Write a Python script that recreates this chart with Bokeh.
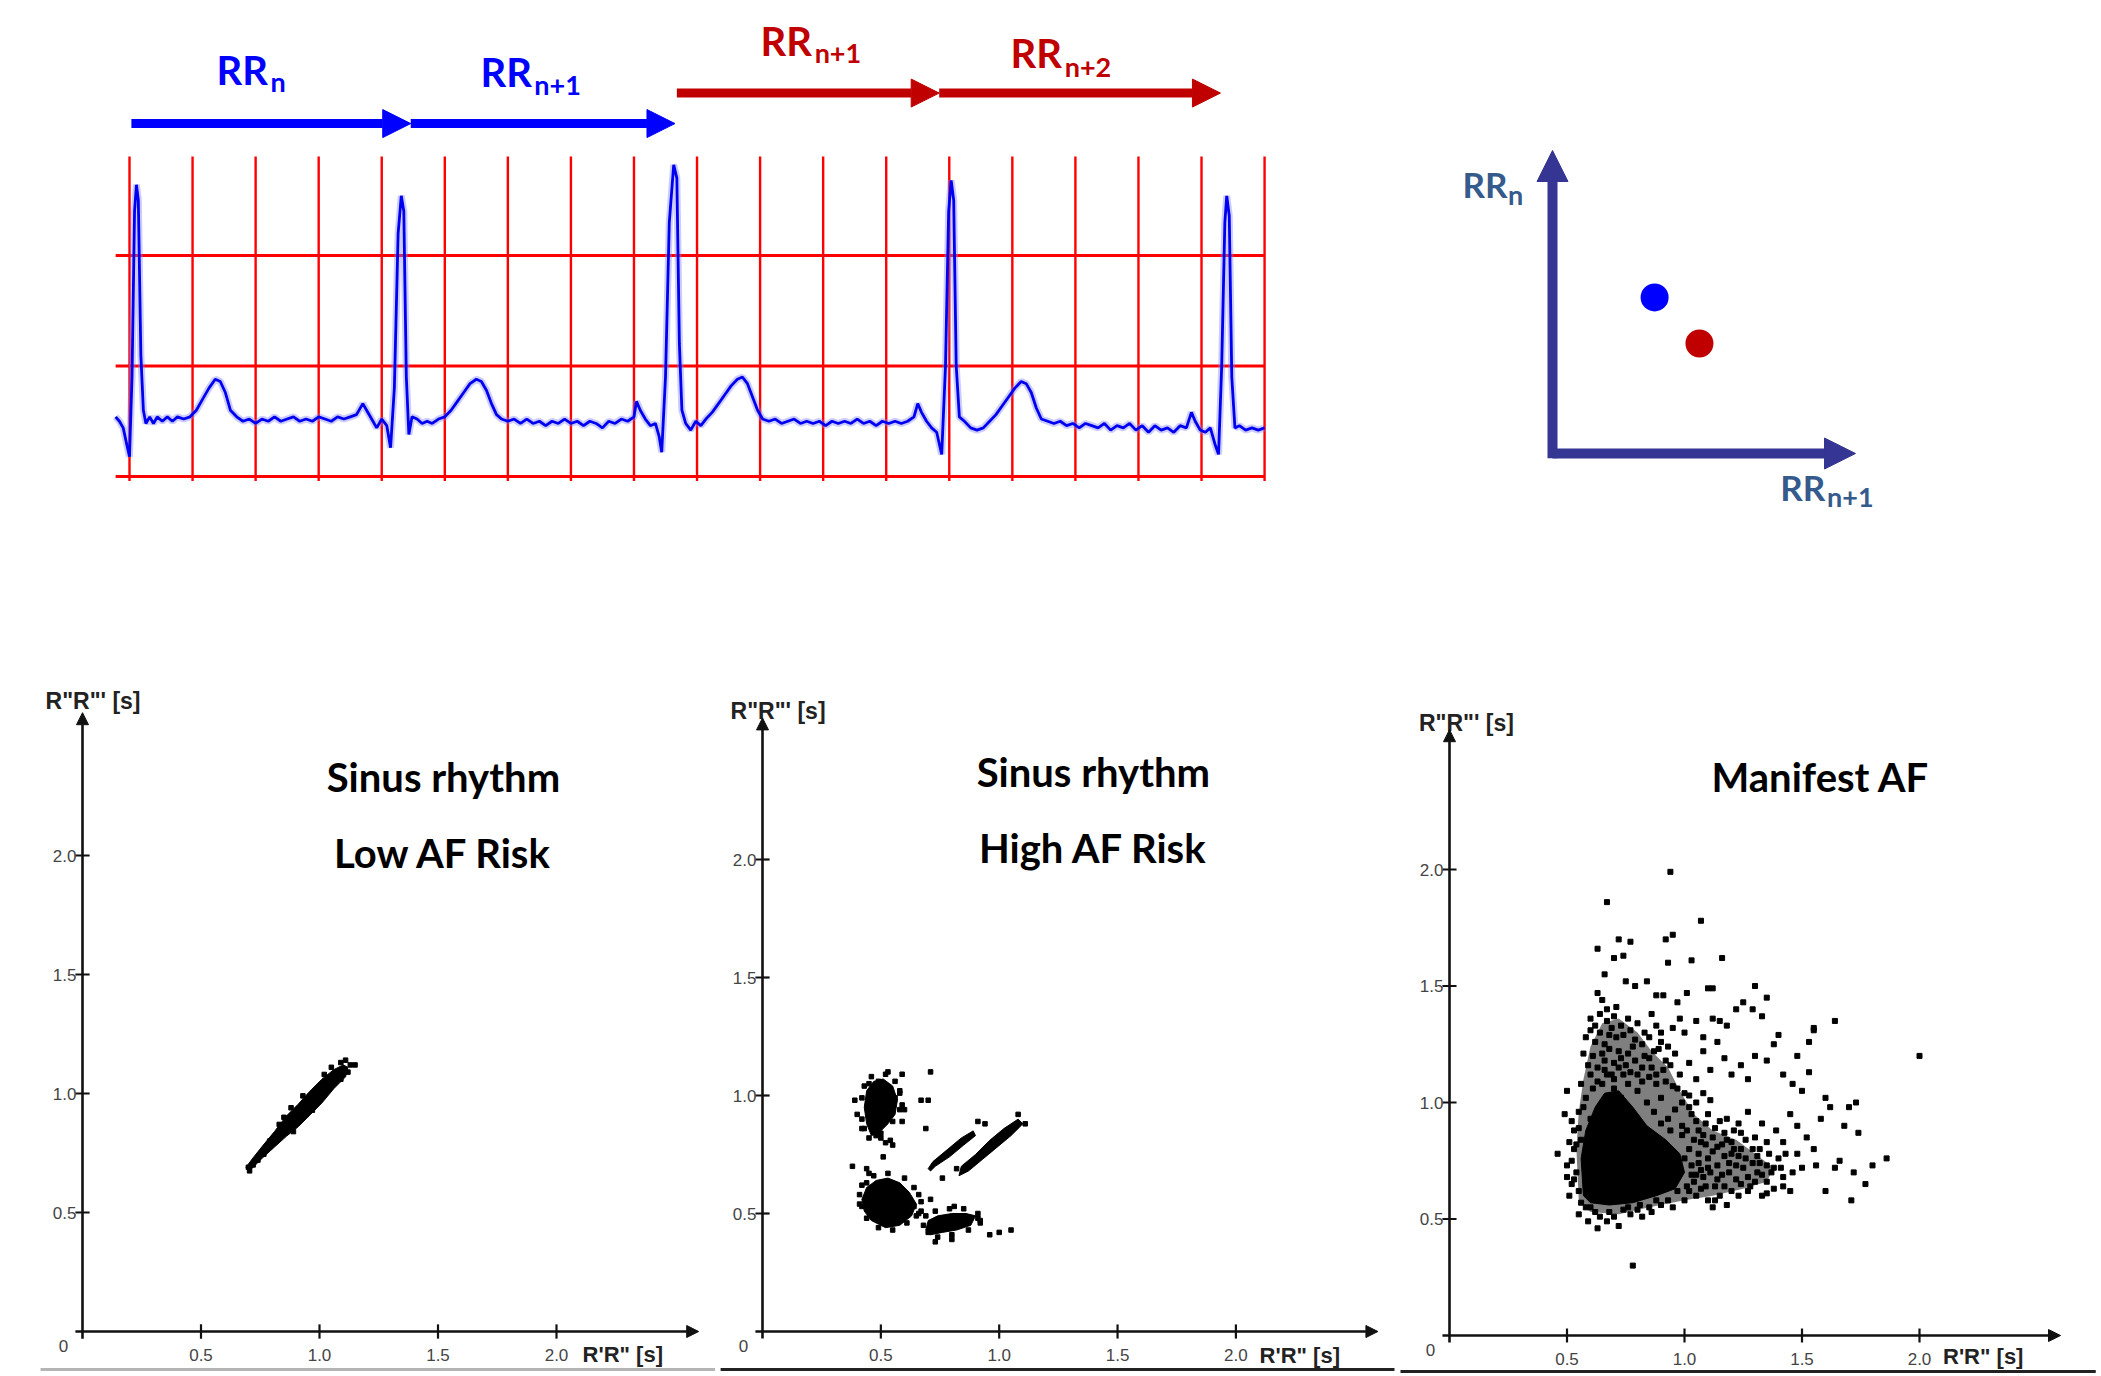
from bokeh.plotting import figure
from bokeh.layouts import column, row
from bokeh.models import Arrow, NormalHead
from bokeh.core.properties import value
from bokeh.embed import file_html
from bokeh.resources import INLINE

# ---------------------------------------------------------------- data
# ECG trace: time (s) and amplitude (mV), read off the strip
ECG_T = [-0.044, -0.032, -0.020, -0.008, 0.000, 0.008, 0.016, 0.022, 0.028, 0.036, 0.044, 0.052,
         0.064, 0.076, 0.088, 0.104, 0.120, 0.136, 0.152, 0.172, 0.192, 0.212, 0.232, 0.252, 0.272,
         0.288, 0.304, 0.320, 0.340, 0.360, 0.380, 0.400, 0.420, 0.440, 0.460, 0.480, 0.500, 0.520,
         0.540, 0.560, 0.580, 0.600, 0.620, 0.640, 0.660, 0.680, 0.700, 0.720, 0.740, 0.752, 0.768,
         0.784, 0.800, 0.816, 0.828, 0.840, 0.852, 0.862, 0.870, 0.878, 0.886, 0.896, 0.912, 0.928,
         0.944, 0.960, 0.980, 1.000, 1.020, 1.040, 1.060, 1.080, 1.100, 1.116, 1.132, 1.148, 1.164,
         1.180, 1.200, 1.220, 1.240, 1.260, 1.280, 1.300, 1.320, 1.340, 1.360, 1.380, 1.400, 1.420,
         1.440, 1.460, 1.480, 1.500, 1.520, 1.540, 1.560, 1.580, 1.600, 1.608, 1.620, 1.636, 1.652,
         1.668, 1.680, 1.688, 1.700, 1.712, 1.726, 1.736, 1.744, 1.752, 1.764, 1.780, 1.796, 1.812,
         1.828, 1.848, 1.868, 1.888, 1.908, 1.928, 1.944, 1.960, 1.976, 1.992, 2.008, 2.028, 2.048,
         2.068, 2.088, 2.108, 2.128, 2.148, 2.168, 2.188, 2.208, 2.228, 2.248, 2.268, 2.288, 2.308,
         2.328, 2.348, 2.368, 2.388, 2.408, 2.428, 2.448, 2.468, 2.488, 2.500, 2.512, 2.528, 2.544,
         2.560, 2.576, 2.588, 2.598, 2.606, 2.614, 2.622, 2.632, 2.648, 2.668, 2.688, 2.708, 2.728,
         2.748, 2.768, 2.788, 2.808, 2.828, 2.844, 2.860, 2.876, 2.892, 2.912, 2.932, 2.952, 2.972,
         2.992, 3.012, 3.032, 3.052, 3.072, 3.092, 3.112, 3.132, 3.152, 3.172, 3.192, 3.212, 3.232,
         3.252, 3.272, 3.292, 3.312, 3.332, 3.352, 3.368, 3.380, 3.396, 3.412, 3.428, 3.444, 3.454,
         3.464, 3.474, 3.480, 3.488, 3.496, 3.506, 3.520, 3.540, 3.560, 3.580, 3.600]
ECG_MV = [0.27, 0.25, 0.22, 0.14, 0.09, 0.45, 1.20, 1.32, 1.25, 0.55, 0.30, 0.24,
          0.27, 0.24, 0.27, 0.25, 0.27, 0.25, 0.27, 0.26, 0.27, 0.30, 0.35, 0.40, 0.44,
          0.43, 0.38, 0.30, 0.27, 0.25, 0.26, 0.24, 0.26, 0.25, 0.27, 0.25, 0.26, 0.27,
          0.25, 0.26, 0.25, 0.27, 0.26, 0.25, 0.27, 0.26, 0.27, 0.28, 0.33, 0.30, 0.26,
          0.22, 0.26, 0.23, 0.13, 0.40, 1.10, 1.27, 1.20, 0.45, 0.19, 0.27, 0.26, 0.24,
          0.25, 0.24, 0.26, 0.27, 0.30, 0.34, 0.38, 0.42, 0.44, 0.43, 0.39, 0.33, 0.28,
          0.26, 0.25, 0.26, 0.24, 0.26, 0.24, 0.25, 0.23, 0.25, 0.24, 0.26, 0.24, 0.25,
          0.23, 0.25, 0.24, 0.22, 0.25, 0.24, 0.26, 0.25, 0.27, 0.34, 0.30, 0.26, 0.23,
          0.24, 0.18, 0.11, 0.45, 1.15, 1.41, 1.35, 0.60, 0.30, 0.24, 0.21, 0.25, 0.23,
          0.26, 0.29, 0.33, 0.37, 0.41, 0.44, 0.45, 0.42, 0.36, 0.30, 0.26, 0.25, 0.26,
          0.24, 0.25, 0.26, 0.24, 0.25, 0.24, 0.25, 0.23, 0.25, 0.24, 0.25, 0.24, 0.26,
          0.24, 0.25, 0.23, 0.25, 0.24, 0.25, 0.24, 0.25, 0.27, 0.33, 0.29, 0.25, 0.22,
          0.20, 0.10, 0.50, 1.20, 1.34, 1.25, 0.50, 0.27, 0.25, 0.22, 0.21, 0.22, 0.25,
          0.28, 0.32, 0.36, 0.40, 0.43, 0.42, 0.38, 0.31, 0.26, 0.25, 0.24, 0.25, 0.23,
          0.24, 0.22, 0.24, 0.23, 0.22, 0.24, 0.21, 0.23, 0.22, 0.24, 0.21, 0.23, 0.20,
          0.23, 0.21, 0.22, 0.20, 0.23, 0.22, 0.29, 0.25, 0.21, 0.20, 0.22, 0.14, 0.10,
          0.50, 1.15, 1.27, 1.18, 0.45, 0.22, 0.23, 0.21, 0.22, 0.21, 0.22]

GRID_T = [0.0, 0.2, 0.4, 0.6, 0.8, 1.0, 1.2, 1.4, 1.6, 1.8, 2.0, 2.2, 2.4, 2.6, 2.8, 3.0, 3.2, 3.4, 3.6]
GRID_MV = [0.0, 0.5, 1.0]

# RR interval arrows: start, middle head, end (s)
RR_BLUE = [0.006, 0.892, 1.730]
RR_RED = [1.736, 2.568, 3.460]

# schematic Poincare point pair
POINCARE_X = [0.337, 0.485]
POINCARE_Y = [0.515, 0.363]
POINCARE_COLORS = ["#0000ff", "#c00000"]

TICKS = [0.5, 1.0, 1.5, 2.0]
TICK_LABELS = ["0.5", "1.0", "1.5", "2.0"]

# --- Sinus rhythm, low AF risk
LOW_BAND_X = [0.69, 0.72, 0.76, 0.81, 0.86, 0.91, 0.96, 1.01, 1.06, 1.10, 1.12,
              1.11, 1.06, 1.01, 0.96, 0.91, 0.86, 0.81, 0.76, 0.72, 0.70]
LOW_BAND_Y = [0.69, 0.73, 0.78, 0.84, 0.905, 0.955, 1.01, 1.06, 1.10, 1.12, 1.11,
              1.07, 1.02, 0.96, 0.91, 0.86, 0.82, 0.775, 0.73, 0.69, 0.67]
LOW_POINTS = [(0.70, 0.69), (0.705, 0.675), (0.72, 0.70), (0.74, 0.72), (0.765, 0.745),
              (0.79, 0.80), (0.83, 0.87), (0.85, 0.90), (0.88, 0.94), (0.93, 0.99),
              (1.02, 1.08), (1.05, 1.11), (1.09, 1.13), (1.11, 1.14), (1.13, 1.12),
              (1.15, 1.12), (1.12, 1.09), (1.09, 1.06), (0.97, 0.93), (0.89, 0.84)]

# --- Sinus rhythm, high AF risk (dense clusters + scattered beats)
HIGH_CLUSTERS_X = [
    [0.44, 0.43, 0.44, 0.47, 0.51, 0.55, 0.57, 0.56, 0.53, 0.49, 0.46],
    [0.42, 0.44, 0.48, 0.53, 0.58, 0.62, 0.65, 0.63, 0.58, 0.52, 0.46, 0.43],
    [0.69, 0.70, 0.74, 0.80, 0.86, 0.90, 0.88, 0.82, 0.76, 0.71],
    [0.70, 0.72, 0.78, 0.84, 0.89, 0.90, 0.85, 0.79, 0.73, 0.71],
    [0.83, 0.84, 0.90, 0.96, 1.02, 1.08, 1.10, 1.05, 0.99, 0.93, 0.87],
]
HIGH_CLUSTERS_Y = [
    [0.88, 0.95, 1.02, 1.06, 1.07, 1.04, 0.98, 0.92, 0.88, 0.84, 0.83],
    [0.56, 0.61, 0.64, 0.65, 0.63, 0.59, 0.54, 0.49, 0.45, 0.44, 0.47, 0.51],
    [0.43, 0.47, 0.49, 0.50, 0.50, 0.49, 0.45, 0.43, 0.42, 0.41],
    [0.69, 0.72, 0.77, 0.82, 0.85, 0.83, 0.79, 0.74, 0.70, 0.68],
    [0.66, 0.70, 0.75, 0.81, 0.86, 0.90, 0.88, 0.83, 0.78, 0.73, 0.68],
]
HIGH_POINTS = [(0.53, 1.10), (0.59, 1.09), (0.71, 1.10), (0.49, 1.06), (0.56, 0.99), (0.59, 0.96),
               (0.67, 0.98), (0.70, 0.98), (0.69, 0.86), (0.50, 0.84), (0.52, 0.80), (0.55, 0.79),
               (0.51, 0.74), (0.38, 0.70), (0.44, 0.69), (0.45, 0.67), (0.71, 0.56), (0.67, 0.51),
               (0.81, 0.53), (0.76, 0.65), (0.96, 0.41), (1.00, 0.42), (1.05, 0.43), (0.73, 0.38),
               (0.80, 0.39), (0.91, 0.89), (0.94, 0.88), (1.08, 0.92), (1.11, 0.88), (0.86, 0.70),
               (0.82, 0.69), (0.41, 0.54), (0.64, 0.53), (0.65, 0.49), (0.88, 0.48), (0.91, 0.48),
               (0.39, 0.98), (0.40, 0.92), (0.42, 0.86), (0.59, 0.89), (0.60, 0.94), (0.48, 0.83),
               (0.54, 0.81), (0.45, 1.05), (0.58, 1.02), (0.42, 0.62), (0.66, 0.58), (0.92, 0.46),
               (0.43, 0.86), (0.42, 0.90), (0.42, 0.99), (0.43, 1.04), (0.46, 1.08), (0.52, 1.09),
               (0.56, 1.06), (0.58, 1.01), (0.58, 0.94), (0.55, 0.89), (0.50, 0.82), (0.45, 0.82),
               (0.41, 0.58), (0.42, 0.53), (0.44, 0.63), (0.47, 0.66), (0.53, 0.67), (0.60, 0.65),
               (0.64, 0.61), (0.67, 0.55), (0.66, 0.50), (0.61, 0.46), (0.55, 0.43), (0.49, 0.44),
               (0.44, 0.48), (0.68, 0.45), (0.69, 0.49), (0.73, 0.51), (0.79, 0.52), (0.85, 0.52),
               (0.91, 0.50), (0.92, 0.47), (0.87, 0.43), (0.80, 0.41), (0.74, 0.40), (0.70, 0.42)]

# --- Manifest AF
AF_CORE_X = [0.57, 0.60, 0.68, 0.78, 0.88, 0.96, 1.00, 0.98, 0.92, 0.84, 0.78, 0.72, 0.66, 0.62, 0.58, 0.56]
AF_CORE_Y = [0.60, 0.57, 0.56, 0.57, 0.60, 0.63, 0.70, 0.78, 0.84, 0.90, 0.98, 1.05, 1.04, 0.98, 0.88, 0.76]
AF_MID_X = [0.55, 0.60, 0.72, 0.85, 1.00, 1.12, 1.25, 1.35, 1.38, 1.30, 1.22, 1.12, 1.04, 0.98,
            0.93, 0.86, 0.80, 0.72, 0.65, 0.60, 0.57, 0.55, 0.54]
AF_MID_Y = [0.58, 0.53, 0.52, 0.55, 0.58, 0.60, 0.63, 0.66, 0.72, 0.78, 0.84, 0.88, 0.95, 1.05,
            1.15, 1.22, 1.30, 1.36, 1.34, 1.24, 1.10, 0.96, 0.80]
AF_POINTS = [
    (0.94, 1.99), (0.67, 1.86), (1.07, 1.78), (2.00, 1.20), (1.86, 0.76), (1.64, 1.35), (0.78, 0.30),
    (0.63, 1.66), (0.66, 1.55), (0.70, 1.62), (0.72, 1.70), (0.74, 1.63), (0.77, 1.69), (0.75, 1.52),
    (0.79, 1.50), (0.84, 1.52), (0.88, 1.46), (0.92, 1.70), (0.95, 1.72), (0.93, 1.60), (0.91, 1.46),
    (0.97, 1.43), (1.03, 1.61), (1.01, 1.47), (1.10, 1.49), (1.12, 1.49), (1.16, 1.62),
    (0.63, 1.47), (0.65, 1.44), (0.67, 1.40), (0.70, 1.37), (0.69, 1.32), (0.64, 1.30), (0.66, 1.25),
    (0.71, 1.28), (0.73, 1.33), (0.76, 1.36), (0.80, 1.34), (0.83, 1.30), (0.86, 1.38), (0.88, 1.33),
    (0.90, 1.30), (0.95, 1.32), (0.98, 1.36), (1.00, 1.30), (1.05, 1.35), (1.08, 1.28), (1.12, 1.36),
    (1.15, 1.35), (1.18, 1.33), (1.22, 1.40), (1.25, 1.43), (1.29, 1.40), (1.33, 1.37), (1.30, 1.50),
    (1.35, 1.45), (0.61, 1.20), (0.63, 1.15), (0.66, 1.18), (0.69, 1.12), (0.72, 1.22), (0.75, 1.16),
    (0.78, 1.24), (0.80, 1.12), (0.83, 1.20), (0.86, 1.15), (0.89, 1.23), (0.92, 1.18), (0.96, 1.21),
    (0.98, 1.12), (1.02, 1.17), (1.05, 1.10), (1.08, 1.22), (1.11, 1.14), (1.14, 1.26), (1.17, 1.19),
    (1.20, 1.12), (1.24, 1.16), (1.27, 1.10), (1.30, 1.20), (1.35, 1.18), (1.38, 1.25), (1.42, 1.12),
    (1.46, 1.08), (1.50, 1.05), (1.55, 1.31), (1.53, 1.26), (1.40, 1.29), (0.56, 1.08), (0.58, 1.02),
    (0.55, 0.96), (0.57, 0.98), (0.52, 0.92), (0.50, 1.05),
    (1.02, 0.98), (1.05, 0.92), (1.08, 0.86), (1.10, 0.95), (1.13, 0.89), (1.16, 0.82), (1.18, 0.93),
    (1.21, 0.88), (1.24, 0.80), (1.27, 0.96), (1.30, 0.85), (1.33, 0.91), (1.36, 0.78), (1.39, 0.88),
    (1.42, 0.83), (1.45, 0.95), (1.48, 0.90), (1.52, 0.85), (1.55, 0.80), (1.58, 0.93), (1.62, 0.98),
    (1.66, 0.75), (1.70, 0.98), (1.68, 0.90), (1.72, 0.70), (1.77, 0.65), (1.71, 0.58), (1.60, 0.62),
    (1.64, 0.72), (1.56, 0.73), (1.50, 0.72), (1.46, 0.70), (1.42, 0.68), (1.38, 0.72), (1.35, 0.66),
    (1.31, 0.70), (1.28, 0.64), (1.25, 0.72), (1.22, 0.67), (1.19, 0.74), (1.16, 0.69), (1.13, 0.64),
    (1.10, 0.76), (1.07, 0.71), (1.04, 0.66), (1.02, 0.80), (1.06, 0.78), (1.12, 0.79), (1.20, 0.78),
    (1.26, 0.76), (1.32, 0.80), (1.40, 0.76), (1.48, 0.78), (1.45, 0.62), (1.38, 0.63), (1.33, 0.60),
    (1.27, 0.62), (1.20, 0.62), (1.15, 0.60), (1.10, 0.58), (1.05, 0.60), (1.00, 0.58), (1.12, 0.55),
    (1.18, 0.56), (1.55, 1.32), (1.48, 1.20), (1.53, 1.13), (1.60, 1.02), (1.73, 1.00), (1.74, 0.87),
    (1.80, 0.73),
    (0.95, 0.55), (0.90, 0.56), (0.85, 0.55), (0.80, 0.54), (0.74, 0.54), (0.68, 0.53), (0.62, 0.53),
    (0.58, 0.55), (0.55, 0.52), (0.59, 0.49), (0.63, 0.46), (0.67, 0.49), (0.72, 0.47), (0.77, 0.52),
    (0.82, 0.51), (0.86, 0.53),
    (0.46, 0.78), (0.50, 0.73), (0.53, 0.80), (0.54, 0.70), (0.52, 0.65), (0.55, 0.62), (0.51, 0.60),
    (0.49, 0.95), (0.53, 0.88), (0.56, 0.84),
    (0.58, 0.70), (0.60, 0.93), (0.62, 0.90), (0.64, 0.95), (0.67, 1.00), (0.70, 0.97), (0.73, 1.02),
    (0.76, 0.98), (0.80, 1.05), (0.84, 1.00), (0.87, 0.96), (0.90, 1.02), (0.93, 0.93), (0.96, 0.97),
    (0.99, 0.90), (1.00, 1.04), (0.95, 1.07), (0.88, 1.08), (0.82, 1.09), (0.76, 1.08), (0.70, 1.06),
    (0.65, 1.08), (0.61, 1.06), (1.03, 0.73), (1.01, 0.64), (0.99, 0.86), (0.97, 0.62), (1.08, 0.68),
    (1.14, 0.73), (1.18, 0.84), (1.24, 0.87), (1.09, 0.82), (1.04, 0.84), (0.94, 0.88), (0.90, 0.91),
    (0.60, 1.36), (0.62, 1.33), (0.64, 1.38), (0.67, 1.35), (0.71, 1.41), (0.74, 1.29), (0.77, 1.31),
    (0.79, 1.27), (0.82, 1.25), (0.85, 1.28), (0.87, 1.22), (0.90, 1.26), (0.93, 1.24), (0.62, 1.26),
    (0.65, 1.21), (0.68, 1.23), (0.70, 1.17), (0.73, 1.19), (0.76, 1.21), (0.79, 1.18), (0.82, 1.15),
    (0.85, 1.19), (0.88, 1.12), (0.91, 1.14), (0.94, 1.16), (0.60, 1.12), (0.63, 1.09), (0.67, 1.12),
    (0.70, 1.10), (0.74, 1.12), (0.77, 1.13), (0.85, 1.11), (0.92, 1.09), (0.97, 1.06), (0.99, 1.00),
    (1.02, 1.03), (1.05, 1.00), (1.08, 1.04), (1.11, 1.01), (0.59, 1.16), (0.66, 1.14), (0.72, 1.15),
    (0.57, 1.21), (0.58, 1.28), (0.60, 1.31), (0.68, 1.29),
    (1.03, 0.95), (1.06, 0.88), (1.09, 0.91), (1.12, 0.85), (1.15, 0.92), (1.17, 0.87), (1.20, 0.83),
    (1.23, 0.91), (1.26, 0.84), (1.29, 0.80), (1.32, 0.74), (1.35, 0.83), (1.37, 0.70), (1.41, 0.72),
    (1.43, 0.78), (1.03, 0.69), (1.06, 0.74), (1.09, 0.64), (1.11, 0.70), (1.14, 0.67), (1.17, 0.64),
    (1.19, 0.70), (1.22, 0.73), (1.24, 0.65), (1.27, 0.68), (1.30, 0.66), (1.33, 0.69), (1.29, 0.74),
    (1.21, 0.80), (1.14, 0.81), (1.07, 0.83), (1.01, 0.88), (1.00, 0.76), (1.02, 0.62), (1.07, 0.63),
    (1.13, 0.58), (1.23, 0.60), (1.35, 0.61), (1.42, 0.64), (1.17, 0.77), (1.23, 0.77), (1.31, 0.77),
    (1.35, 0.73), (1.10, 0.72), (1.05, 0.69),
    (0.56, 0.57), (0.60, 0.55), (0.64, 0.51), (0.70, 0.51), (0.76, 0.55), (0.81, 0.56), (0.88, 0.58),
    (0.93, 0.58), (0.53, 0.67), (0.52, 0.75), (0.54, 0.82), (0.55, 0.89), (0.51, 0.83), (0.50, 0.68),
]

# ---------------------------------------------------------------- helpers
BOLD_FONT = value("Lato")
AX_FONT = value("Liberation Sans")


def hr(p0, unit, lo, hi):
    return ((lo - p0) / unit, (hi - p0) / unit)


def vr(p0, unit, top, bottom):
    return ((p0 - bottom) / unit, (p0 - top) / unit)


def blank(w, h, xr, yr):
    p = figure(width=w, height=h, x_range=xr, y_range=yr, output_backend="svg",
               toolbar_location=None, x_axis_location=None, y_axis_location=None,
               min_border=0, outline_line_color=None, title=None,
               background_fill_color="white", border_fill_color="white")
    p.grid.visible = False
    return p


def sub_label(p, x_main, y_main, x_sub, y_sub, sub, color, size_main, size_sub):
    p.text(x=[x_main], y=[y_main], text=["RR"], text_font=BOLD_FONT, text_font_style="bold",
           text_font_size=size_main, text_color=color, text_align="left",
           text_baseline="alphabetic", y_offset=-16)
    p.text(x=[x_sub], y=[y_sub], text=[sub], text_font=BOLD_FONT, text_font_style="bold",
           text_font_size=size_sub, text_color=color, text_align="left",
           text_baseline="alphabetic", y_offset=-16)


def head(color, size):
    return NormalHead(size=size, fill_color=color, line_color=color)


# ---------------------------------------------------------------- ECG strip
ecg = blank(1300, 660, hr(129, 315.3, 0, 1300), vr(476, 221, 0, 660))
ecg.segment(x0=GRID_T, y0=[-0.02] * len(GRID_T), x1=GRID_T, y1=[1.448] * len(GRID_T),
            line_color="#ff0000", line_width=2.4)
ecg.segment(x0=[-0.044] * len(GRID_MV), y0=GRID_MV, x1=[3.6] * len(GRID_MV), y1=GRID_MV,
            line_color="#ff0000", line_width=2.8)
ecg.line(ECG_T, ECG_MV, line_color="#8080ff", line_width=7, line_alpha=0.4)
ecg.line(ECG_T, ECG_MV, line_color="#0000f0", line_width=2.8)

for pts, yv, col in ((RR_BLUE, 1.597, "#0000ff"), (RR_RED, 1.735, "#c00000")):
    ecg.add_layout(Arrow(x_start=pts[0], y_start=yv, x_end=pts[1], y_end=yv,
                         line_color=col, line_width=9, end=head(col, 28)))
    ecg.add_layout(Arrow(x_start=pts[1], y_start=yv, x_end=pts[2], y_end=yv,
                         line_color=col, line_width=9, end=head(col, 28)))

sub_label(ecg, 0.276, 1.769, 0.447, 1.715, "n", "#0000ff", "40px", "27px")
sub_label(ecg, 1.113, 1.756, 1.284, 1.701, "n+1", "#0000ff", "40px", "27px")
sub_label(ecg, 2.001, 1.896, 2.173, 1.846, "n+1", "#c00000", "40px", "27px")
sub_label(ecg, 2.794, 1.846, 2.966, 1.783, "n+2", "#c00000", "40px", "27px")

# ---------------------------------------------------------------- schematic Poincare
sch = blank(796, 660, hr(1552, 303, 1300, 2096), vr(453, 303, 0, 660))
AXC = "#353594"
sch.add_layout(Arrow(x_start=0, y_start=-0.016, x_end=0, y_end=1.0, line_color=AXC,
                     line_width=10, end=head(AXC, 31)))
sch.add_layout(Arrow(x_start=0, y_start=0, x_end=1.0, y_end=0, line_color=AXC,
                     line_width=10, end=head(AXC, 31)))
sch.scatter(POINCARE_X, POINCARE_Y, size=28, color=POINCARE_COLORS, line_color=None)
LBL = "#355b8c"
sub_label(sch, -0.297, 0.835, -0.147, 0.802, "n", LBL, "35px", "27px")
sub_label(sch, 0.752, -0.162, 0.906, -0.195, "n+1", LBL, "35px", "27px")


# ---------------------------------------------------------------- bottom panels
ROW2_TOP, ROW2_BOTTOM = 660, 1376


def panel(w, xr, yr, ylab_pos, xlab_pos, titles, frame_line):
    p = blank(w, ROW2_BOTTOM - ROW2_TOP, xr, yr)
    k = "#111111"
    p.add_layout(Arrow(x_start=-0.03, y_start=0, x_end=2.6, y_end=0, line_color=k,
                       line_width=2.6, end=head(k, 12)))
    p.add_layout(Arrow(x_start=0, y_start=-0.03, x_end=0, y_end=2.6, line_color=k,
                       line_width=2.6, end=head(k, 12)))
    n = len(TICKS)
    p.segment(x0=TICKS, y0=[-0.03] * n, x1=TICKS, y1=[0.03] * n, line_color=k, line_width=2.2)
    p.segment(x0=[-0.03] * n, y0=TICKS, x1=[0.03] * n, y1=TICKS, line_color=k, line_width=2.2)
    p.text(x=TICKS, y=[0] * n, text=TICK_LABELS, y_offset=17, text_align="center",
           text_baseline="top", text_font=AX_FONT, text_font_size="17px", text_color="#444444")
    p.text(x=[0] * n, y=TICKS, text=TICK_LABELS, x_offset=-6, text_align="right",
           text_baseline="middle", text_font=AX_FONT, text_font_size="17px", text_color="#444444")
    p.text(x=[0], y=[0], text=["0"], x_offset=-19, y_offset=14, text_align="center",
           text_baseline="middle", text_font=AX_FONT, text_font_size="17px", text_color="#444444")
    p.text(x=[ylab_pos[0]], y=[ylab_pos[1]], text=["R\"R\"' [s]"], text_align="left",
           text_baseline="middle", text_font=AX_FONT, text_font_style="bold",
           text_font_size="23px", text_color="#222222")
    p.text(x=[xlab_pos[0]], y=[xlab_pos[1]], text=["R'R\" [s]"], text_align="left",
           text_baseline="middle", text_font=AX_FONT, text_font_style="bold",
           text_font_size="22px", text_color="#222222")
    for tx, ty, t in titles:
        p.text(x=[tx], y=[ty], text=[t], text_align="center", text_baseline="middle",
               text_font=BOLD_FONT, text_font_style="bold", text_font_size="40px",
               text_color="#000000")
    fx0, fx1, fy, fc = frame_line
    p.segment(x0=[fx0], y0=[fy], x1=[fx1], y1=[fy], line_color=fc, line_width=3)
    return p


p1 = panel(715, hr(82, 237, 0, 715), vr(1331, 238, ROW2_TOP, ROW2_BOTTOM), (-0.156, 2.65),
           (2.11, -0.098), [(1.523, 2.33, "Sinus rhythm"), (1.523, 2.01, "Low AF Risk")],
           (-0.177, 2.68, -0.160, "#b4b4b4"))
p1.patch(LOW_BAND_X, LOW_BAND_Y, fill_color="black", line_color="black", line_width=1)
p1.scatter([q[0] for q in LOW_POINTS], [q[1] for q in LOW_POINTS], marker="square", size=4.5,
           color="black")

p2 = panel(685, hr(762, 236.7, 715, 1400), vr(1331, 236, ROW2_TOP, ROW2_BOTTOM), (-0.135, 2.63),
           (2.10, -0.10), [(1.398, 2.369, "Sinus rhythm"), (1.398, 2.047, "High AF Risk")],
           (-0.177, 2.67, -0.161, "#222222"))
p2.patches(HIGH_CLUSTERS_X, HIGH_CLUSTERS_Y, fill_color="black", line_color="black", line_width=1)
p2.scatter([q[0] for q in HIGH_POINTS], [q[1] for q in HIGH_POINTS], marker="square", size=4.5,
           color="black")

p3 = panel(696, hr(1449, 235, 1400, 2096), vr(1335, 233, ROW2_TOP, ROW2_BOTTOM), (-0.13, 2.63),
           (2.10, -0.092), [(1.579, 2.395, "Manifest AF")],
           (-0.217, 2.75, -0.155, "#222222"))
p3.patch(AF_MID_X, AF_MID_Y, fill_color="black", fill_alpha=0.5, line_color=None)
p3.patch(AF_CORE_X, AF_CORE_Y, fill_color="black", line_color="black", line_width=1)
p3.scatter([q[0] for q in AF_POINTS], [q[1] for q in AF_POINTS], marker="square", size=5,
           color="black")

layout = column(row(ecg, sch), row(p1, p2, p3))
open("out.html", "w").write(file_html(layout, INLINE))
